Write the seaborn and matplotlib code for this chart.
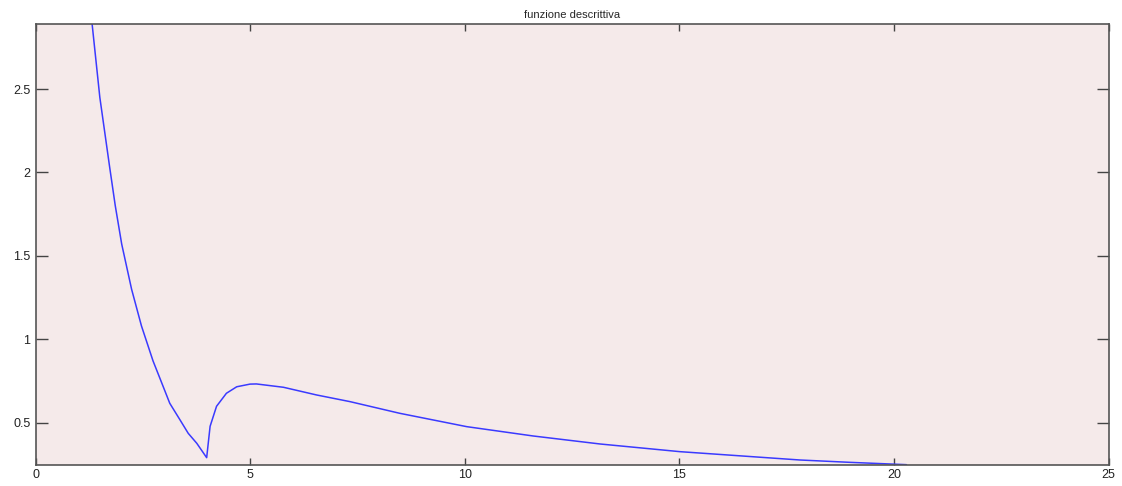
import numpy as np
import pandas as pd
import seaborn as sns
import matplotlib.pyplot as plt
from matplotlib.ticker import FuncFormatter

# values
amp = [1.31, 1.49, 1.72, 1.85, 2.00, 2.23, 2.46, 2.64,
       2.73, 2.93, 3.12, 3.36, 3.55, 3.75, 3.98,
       4.06, 4.21, 4.44, 4.68, 4.99, 5.14, 5.77, 6.54,
       7.32, 8.48, 10.04, 11.59, 13.15, 15.01, 17.81, 18.97, 20.29]
gain = [2.89, 2.45, 2.03, 1.80, 1.57, 1.30, 1.08, 0.94,
        0.87, 0.74, 0.616, 0.516, 0.436, 0.376, 0.290,
        0.478, 0.598, 0.676, 0.715, 0.731, 0.732, 0.712, 0.666,
        0.626, 0.556, 0.476, 0.420, 0.372, 0.326, 0.276, 0.262, 0.248]

title = "funzione descrittiva"
x_ticks = [0, 5, 10, 15, 20, 25]
y_ticks = [0.5, 1, 1.5, 2, 2.5]

df = pd.DataFrame({"amp": amp, "gain": gain})

sns.set_style("ticks")
plt.rcParams['font.family'] = ['Liberation Sans', 'DejaVu Sans']

fig = plt.figure(figsize=(11.22, 4.86), dpi=100)
ax = fig.add_axes([0.032, 0.0432, 0.956, 0.9074])
ax.set_facecolor("#f5eaea")

sns.lineplot(data=df, x="amp", y="gain", ax=ax, color="#3a3aff", linewidth=1.1, sort=False)

ax.set_xlim(0, 25)
ax.set_ylim(0.246, 2.89)
ax.set_xticks(x_ticks)
ax.set_yticks(y_ticks)
ax.yaxis.set_major_formatter(FuncFormatter(lambda v, p: "%g" % v))
ax.xaxis.set_major_formatter(FuncFormatter(lambda v, p: "%g" % v))
ax.set_xlabel("")
ax.set_ylabel("")
ax.set_title(title, fontsize=8, pad=4)

for s in ax.spines.values():
    s.set_visible(True)
    s.set_color("#555555")
    s.set_linewidth(1.2)

ax.tick_params(axis="x", direction="in", length=5, width=1, colors="#444444",
               labelcolor="#222222", labelsize=9, top=True, pad=3)
ax.tick_params(axis="y", direction="in", length=8.5, width=1, colors="#444444",
               labelcolor="#222222", labelsize=9, right=True, pad=4)

fig.savefig("out.png", dpi=100)
